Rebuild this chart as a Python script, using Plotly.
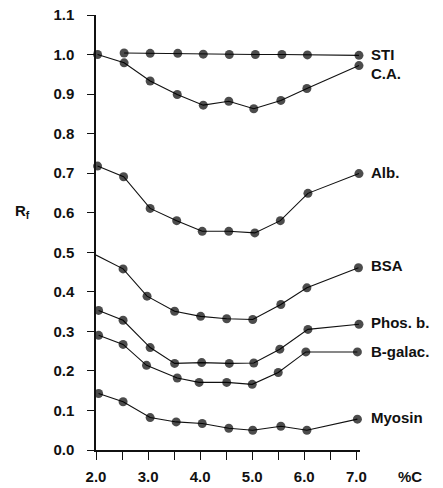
import plotly.graph_objects as go

# ---- data ----
x_sti = [2.54, 3.04, 3.57, 4.06, 4.56, 5.06, 5.57, 6.06, 7.05]
y_sti = [1.004, 1.003, 1.003, 1.001, 1.000, 1.000, 1.000, 0.999, 0.998]

x_ca = [2.03, 2.54, 3.04, 3.56, 4.06, 4.55, 5.03, 5.55, 6.05, 7.05]
y_ca = [1.000, 0.979, 0.933, 0.899, 0.872, 0.882, 0.863, 0.884, 0.914, 0.972]

x_alb = [2.03, 2.53, 3.04, 3.55, 4.04, 4.55, 5.05, 5.54, 6.07, 7.05]
y_alb = [0.718, 0.691, 0.611, 0.580, 0.553, 0.553, 0.549, 0.580, 0.649, 0.699]

x_bsa = [2.0, 2.52, 2.98, 3.51, 4.01, 4.51, 5.01, 5.55, 6.05, 7.04]
y_bsa = [0.493, 0.458, 0.389, 0.351, 0.338, 0.332, 0.330, 0.368, 0.410, 0.461]

x_phos = [2.05, 2.52, 3.04, 3.51, 4.03, 4.56, 5.03, 5.53, 6.07, 7.05]
y_phos = [0.353, 0.328, 0.259, 0.219, 0.221, 0.219, 0.220, 0.255, 0.305, 0.318]

x_bgal = [2.05, 2.52, 2.97, 3.56, 3.98, 4.51, 5.00, 5.50, 6.03, 7.02]
y_bgal = [0.290, 0.267, 0.214, 0.182, 0.171, 0.171, 0.166, 0.196, 0.248, 0.248]

x_myo = [2.05, 2.52, 3.04, 3.54, 4.04, 4.55, 5.01, 5.55, 6.05, 7.02]
y_myo = [0.143, 0.122, 0.082, 0.071, 0.067, 0.055, 0.050, 0.060, 0.050, 0.078]

series_names = ["STI", "C.A.", "Alb.", "BSA", "Phos. b.", "B-galac.", "Myosin"]
label_y = [1.000, 0.953, 0.701, 0.466, 0.323, 0.250, 0.081]

x_tickvals = [2.0, 3.0, 4.0, 5.0, 6.0, 7.0]
x_ticktext = ["2.0", "3.0", "4.0", "5.0", "6.0", "7.0"]
x_minor_tickvals = [2.5, 3.5, 4.5, 5.5, 6.5]
y_tickvals = [0.0, 0.1, 0.2, 0.3, 0.4, 0.5, 0.6, 0.7, 0.8, 0.9, 1.0, 1.1]
y_ticktext = ["0.0", "0.1", "0.2", "0.3", "0.4", "0.5", "0.6", "0.7", "0.8", "0.9", "1.0", "1.1"]

FONT = "Liberation Sans, Arial, sans-serif"
INK = "#111111"

fig = go.Figure()
all_x = [x_sti, x_ca, x_alb, x_bsa, x_phos, x_bgal, x_myo]
all_y = [y_sti, y_ca, y_alb, y_bsa, y_phos, y_bgal, y_myo]
for name, xs, ys in zip(series_names, all_x, all_y):
    sizes = [9] * len(xs)
    if name == "BSA":
        sizes[0] = 0
    fig.add_trace(go.Scatter(
        x=xs, y=ys, mode="lines+markers", name=name,
        line=dict(color=INK, width=1.1),
        marker=dict(color="#000000", size=sizes, line=dict(width=0)),
        cliponaxis=False, showlegend=False, hoverinfo="skip"))

for name, ly in zip(series_names, label_y):
    fig.add_annotation(x=7.0, y=ly, xref="x", yref="y", text="<b>%s</b>" % name,
                       showarrow=False, xanchor="left", yanchor="middle", xshift=13,
                       font=dict(family=FONT, size=15, color=INK))

fig.add_annotation(x=1.19, y=-0.062, xref="paper", yref="paper", text="<b>%C</b>",
                   showarrow=False, xanchor="center", yanchor="middle",
                   font=dict(family=FONT, size=15, color=INK))
fig.add_annotation(x=-0.28, y=0.549, xref="paper", yref="paper", text="<b>R<sub>f</sub></b>",
                   showarrow=False, xanchor="center", yanchor="middle",
                   font=dict(family=FONT, size=15, color=INK))

fig.update_layout(
    width=443, height=488,
    margin=dict(l=96, r=443 - 96 - 264, t=15, b=38),
    paper_bgcolor="white", plot_bgcolor="white",
    font=dict(family=FONT, size=15, color=INK),
)
fig.update_xaxes(range=[2.0, 7.07], tickvals=x_tickvals, ticktext=x_ticktext,
                 showgrid=False, zeroline=False, showline=True, linecolor=INK, linewidth=1.5,
                 ticks="outside", ticklen=8, tickwidth=1.3, tickcolor=INK,
                 minor=dict(tickvals=x_minor_tickvals, ticks="outside", ticklen=8,
                            tickwidth=1.3, tickcolor=INK, showgrid=False),
                 tickfont=dict(family=FONT, size=15, color=INK, weight="bold"),
                 ticklabelstandoff=4, automargin=False)
fig.update_yaxes(range=[0.0, 1.1], tickvals=y_tickvals, ticktext=y_ticktext,
                 showgrid=False, zeroline=False, showline=True, linecolor=INK, linewidth=1.5,
                 ticks="outside", ticklen=7, tickwidth=1.3, tickcolor=INK,
                 tickfont=dict(family=FONT, size=15, color=INK, weight="bold"),
                 ticklabelstandoff=10, automargin=False)

fig.write_html("out.html", config={"displayModeBar": False},
               post_script="document.body.style.margin='0';")
